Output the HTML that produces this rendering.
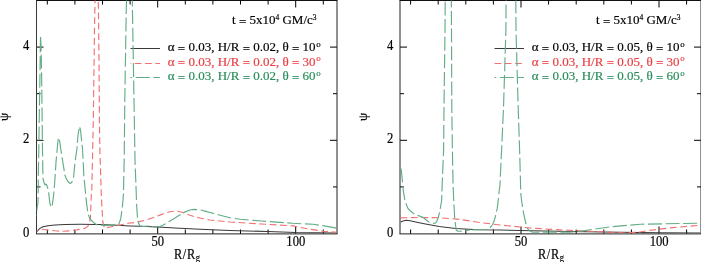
<!DOCTYPE html>
<html><head><meta charset="utf-8"><style>
html,body{margin:0;padding:0;background:#fff;}
svg{display:block;will-change:transform;}
text{font-family:"Liberation Serif",serif;font-size:13px;fill:#000;stroke:#000;stroke-width:0.18px;}
</style></head><body>
<svg width="701" height="262" viewBox="0 0 701 262">
<defs>
<clipPath id="cl"><rect x="36.5" y="0.5" width="300" height="233"/></clipPath>
<clipPath id="cr"><rect x="400.5" y="0.5" width="300" height="233"/></clipPath>
</defs>
<g stroke="#000" stroke-width="1" fill="none">
<line x1="47.3" y1="233.9" x2="47.3" y2="229.5"/>
<line x1="47.3" y1="0.5" x2="47.3" y2="4.5"/>
<line x1="74.9" y1="233.9" x2="74.9" y2="229.5"/>
<line x1="74.9" y1="0.5" x2="74.9" y2="4.5"/>
<line x1="102.5" y1="233.9" x2="102.5" y2="229.5"/>
<line x1="102.5" y1="0.5" x2="102.5" y2="4.5"/>
<line x1="130.1" y1="233.9" x2="130.1" y2="229.5"/>
<line x1="130.1" y1="0.5" x2="130.1" y2="4.5"/>
<line x1="157.7" y1="233.9" x2="157.7" y2="226.5"/>
<line x1="157.7" y1="0.5" x2="157.7" y2="7.5"/>
<line x1="185.3" y1="233.9" x2="185.3" y2="229.5"/>
<line x1="185.3" y1="0.5" x2="185.3" y2="4.5"/>
<line x1="212.9" y1="233.9" x2="212.9" y2="229.5"/>
<line x1="212.9" y1="0.5" x2="212.9" y2="4.5"/>
<line x1="240.5" y1="233.9" x2="240.5" y2="229.5"/>
<line x1="240.5" y1="0.5" x2="240.5" y2="4.5"/>
<line x1="268.1" y1="233.9" x2="268.1" y2="229.5"/>
<line x1="268.1" y1="0.5" x2="268.1" y2="4.5"/>
<line x1="295.7" y1="233.9" x2="295.7" y2="226.5"/>
<line x1="295.7" y1="0.5" x2="295.7" y2="7.5"/>
<line x1="323.3" y1="233.9" x2="323.3" y2="229.5"/>
<line x1="323.3" y1="0.5" x2="323.3" y2="4.5"/>
<line x1="36.5" y1="186.9" x2="40.5" y2="186.9"/>
<line x1="337.0" y1="186.9" x2="333.0" y2="186.9"/>
<line x1="36.5" y1="140.3" x2="43.5" y2="140.3"/>
<line x1="337.0" y1="140.3" x2="330.0" y2="140.3"/>
<line x1="36.5" y1="93.7" x2="40.5" y2="93.7"/>
<line x1="337.0" y1="93.7" x2="333.0" y2="93.7"/>
<line x1="36.5" y1="47.1" x2="43.5" y2="47.1"/>
<line x1="337.0" y1="47.1" x2="330.0" y2="47.1"/>
<line x1="36.0" y1="0.5" x2="337.5" y2="0.5" stroke="#111"/>
<line x1="36.5" y1="0.5" x2="36.5" y2="233.9" stroke="#3a3a3a"/>
<line x1="337.0" y1="0.5" x2="337.0" y2="233.9" stroke="#222"/>
<line x1="36.0" y1="233.9" x2="337.5" y2="233.9" stroke="#222"/>
<line x1="410.6" y1="233.9" x2="410.6" y2="229.5"/>
<line x1="410.6" y1="0.5" x2="410.6" y2="4.5"/>
<line x1="438.2" y1="233.9" x2="438.2" y2="229.5"/>
<line x1="438.2" y1="0.5" x2="438.2" y2="4.5"/>
<line x1="465.8" y1="233.9" x2="465.8" y2="229.5"/>
<line x1="465.8" y1="0.5" x2="465.8" y2="4.5"/>
<line x1="493.4" y1="233.9" x2="493.4" y2="229.5"/>
<line x1="493.4" y1="0.5" x2="493.4" y2="4.5"/>
<line x1="521.0" y1="233.9" x2="521.0" y2="226.5"/>
<line x1="521.0" y1="0.5" x2="521.0" y2="7.5"/>
<line x1="548.6" y1="233.9" x2="548.6" y2="229.5"/>
<line x1="548.6" y1="0.5" x2="548.6" y2="4.5"/>
<line x1="576.2" y1="233.9" x2="576.2" y2="229.5"/>
<line x1="576.2" y1="0.5" x2="576.2" y2="4.5"/>
<line x1="603.8" y1="233.9" x2="603.8" y2="229.5"/>
<line x1="603.8" y1="0.5" x2="603.8" y2="4.5"/>
<line x1="631.4" y1="233.9" x2="631.4" y2="229.5"/>
<line x1="631.4" y1="0.5" x2="631.4" y2="4.5"/>
<line x1="659.0" y1="233.9" x2="659.0" y2="226.5"/>
<line x1="659.0" y1="0.5" x2="659.0" y2="7.5"/>
<line x1="686.6" y1="233.9" x2="686.6" y2="229.5"/>
<line x1="686.6" y1="0.5" x2="686.6" y2="4.5"/>
<line x1="400.0" y1="186.9" x2="404.0" y2="186.9"/>
<line x1="701.0" y1="186.9" x2="697.0" y2="186.9"/>
<line x1="400.0" y1="140.3" x2="407.0" y2="140.3"/>
<line x1="701.0" y1="140.3" x2="694.0" y2="140.3"/>
<line x1="400.0" y1="93.7" x2="404.0" y2="93.7"/>
<line x1="701.0" y1="93.7" x2="697.0" y2="93.7"/>
<line x1="400.0" y1="47.1" x2="407.0" y2="47.1"/>
<line x1="701.0" y1="47.1" x2="694.0" y2="47.1"/>
<line x1="399.5" y1="0.5" x2="701.5" y2="0.5" stroke="#111"/>
<line x1="400.0" y1="0.5" x2="400.0" y2="233.9" stroke="#222"/>
<line x1="701.0" y1="0.5" x2="701.0" y2="233.9" stroke="#222"/>
<line x1="399.5" y1="233.9" x2="701.5" y2="233.9" stroke="#222"/>
</g>
<g fill="none" stroke-width="1">
<line x1="130.5" y1="48.5" x2="160" y2="48.5" stroke="#3a3a3a"/>
<line x1="130.5" y1="63.5" x2="160" y2="63.5" stroke="#f27070" stroke-dasharray="6.7 3.6" stroke-dashoffset="6.0"/>
<line x1="130.5" y1="77.5" x2="160" y2="77.5" stroke="#62ad86" stroke-dasharray="14 3.6" stroke-dashoffset="12.3"/>
<line x1="494.5" y1="48.5" x2="524" y2="48.5" stroke="#3a3a3a"/>
<line x1="494.5" y1="63.5" x2="524" y2="63.5" stroke="#f27070" stroke-dasharray="6.7 3.6" stroke-dashoffset="0"/>
<line x1="494.5" y1="77.5" x2="524" y2="77.5" stroke="#62ad86" stroke-dasharray="14 3.6" stroke-dashoffset="12.3"/>
</g>
<g fill="none" stroke-width="1.15" clip-path="url(#cl)" stroke-linejoin="round">
<path d="M36.5,232.3 L38.0,230.2 L40.0,228.4 L43.0,226.7 L48.0,225.7 L55.0,225.0 L65.0,224.5 L80.0,224.3 L96.0,224.4 L100.0,224.5 L117.8,225.2 L130.0,225.9 L140.0,226.3 L157.8,227.0 L175.0,228.0 L200.0,229.3 L230.0,230.4 L267.7,231.5 L295.9,232.6 L336.5,233.0" stroke="#3a3a3a" stroke-width="1.05"/>
<path d="M95.1,0.0 L94.8,13.0 L94.5,30.0 L93.3,120.0 L92.4,163.0 L91.8,190.0 L91.3,195.0 L90.4,218.0 L89.5,223.1 L88.0,226.1 L85.0,228.3 L80.0,229.1 L76.0,230.0 L70.0,230.8 L62.0,231.3 L55.0,230.8 L48.0,230.0 L42.0,229.3 L39.0,230.0 L36.5,231.5" stroke="#f27070" stroke-dasharray="6.8 3.6" stroke-dashoffset="3.5"/>
<path d="M98.2,0.0 L98.5,13.0 L99.0,60.0 L99.4,120.0 L99.9,150.0 L101.4,197.7 L102.4,215.0 L102.8,222.0 L103.6,225.5 L105.0,228.3 L110.0,227.0 L120.0,225.0 L128.0,223.3 L135.0,222.5 L140.0,221.4 L147.0,219.8 L152.0,218.0 L155.0,216.8 L162.0,214.4 L165.0,213.2 L170.0,211.8 L175.0,211.1 L178.0,211.3 L182.0,212.3 L185.0,213.4 L190.0,215.3 L195.0,216.8 L200.0,218.0 L210.0,220.0 L220.0,221.0 L230.0,222.0 L261.4,224.0 L292.8,225.9 L308.5,229.0 L324.1,231.4 L336.5,232.2" stroke="#f27070" stroke-dasharray="6.8 3.6" stroke-dashoffset="8.4"/>
<path d="M126.5,0.0 L126.2,13.0 L124.8,100.0 L124.2,160.0 L123.4,195.0 L122.5,205.7 L120.7,219.0 L118.7,224.4 L106.7,225.4 L97.4,225.0 L93.4,222.4 L90.0,219.0 L88.0,213.7 L86.6,203.6 L84.9,186.5 L83.8,175.0 L82.6,150.0 L80.5,130.0 L79.5,126.3 L78.0,135.0 L76.8,150.0 L75.0,162.0 L73.8,175.0 L73.5,178.0 L72.3,181.3 L70.4,183.6 L67.7,181.3 L66.0,178.0 L64.9,175.0 L62.5,160.0 L60.9,150.0 L59.5,140.0 L58.6,137.7 L58.0,141.0 L57.1,150.0 L56.0,162.0 L55.2,175.0 L54.5,185.0 L53.6,195.5 L52.3,205.0 L51.0,207.4 L49.8,202.7 L48.3,189.8 L47.0,186.0 L46.4,184.4 L45.7,184.2 L45.0,185.0 L44.0,182.5 L43.1,179.0 L42.8,170.0 L42.5,150.0 L42.1,115.0 L41.7,80.0 L41.0,45.0 L40.5,36.0 L40.3,50.0 L39.9,80.0 L39.2,120.0 L38.8,150.0 L38.3,175.0 L38.3,187.0 L38.0,202.7 L37.0,207.9 L36.5,216.0" stroke="#62ad86" stroke-dasharray="14 3.6" stroke-dashoffset="0"/>
<path d="M132.3,0.0 L132.5,13.0 L134.0,100.0 L135.0,160.0 L136.3,195.0 L136.6,205.0 L137.5,218.0 L138.5,223.0 L140.0,226.0 L143.0,226.5 L148.0,226.0 L156.0,227.0 L160.0,226.5 L163.5,225.0 L165.0,224.0 L170.0,221.0 L175.0,218.0 L178.5,215.8 L184.0,212.4 L190.0,210.0 L194.0,209.4 L200.0,209.8 L206.0,211.4 L211.0,212.8 L223.0,216.0 L230.0,217.8 L240.0,219.3 L261.4,221.0 L292.8,223.3 L313.2,224.3 L324.1,225.9 L336.5,228.2" stroke="#62ad86" stroke-dasharray="14 3.6" stroke-dashoffset="7.5"/>
</g>
<g fill="none" stroke-width="1.15" clip-path="url(#cr)" stroke-linejoin="round">
<path d="M400.5,222.0 L403.0,221.0 L406.2,220.3 L410.0,220.8 L418.0,222.5 L425.5,224.0 L439.2,226.6 L455.7,228.4 L478.0,229.7 L500.0,230.1 L520.0,230.5 L570.0,231.5 L620.0,232.3 L660.0,232.8 L700.5,233.0" stroke="#3a3a3a" stroke-width="1.05"/>
<path d="M400.5,217.9 L420.0,217.5 L440.0,217.8 L460.0,219.4 L478.0,222.3 L500.0,225.0 L520.0,227.0 L530.0,228.0 L540.0,228.6 L560.0,229.9 L600.0,231.8 L626.0,233.0 L640.0,232.0 L650.5,230.2 L672.7,227.6 L700.5,225.2" stroke="#f27070" stroke-dasharray="6.8 3.6"/>
<path d="M445.2,0.0 L445.0,30.0 L444.0,108.0 L443.6,150.0 L442.1,186.0 L441.7,200.0 L439.9,211.0 L438.3,217.5 L436.8,221.3 L435.5,223.0 L433.8,223.4 L429.5,222.4 L426.4,220.2 L423.4,217.5 L419.1,215.9 L415.5,214.7 L413.6,213.6 L410.9,211.3 L408.0,208.5 L406.7,205.6 L404.9,200.0 L403.5,192.3 L402.5,182.0 L401.5,172.0 L400.5,164.0" stroke="#62ad86" stroke-dasharray="14 3.6" stroke-dashoffset="16.1"/>
<path d="M451.3,0.0 L451.5,30.0 L451.8,108.0 L452.4,150.0 L453.1,186.0 L453.7,200.0 L454.6,216.5 L455.5,225.0 L456.3,230.0 L457.5,231.2 L462.0,231.2 L470.0,230.0" stroke="#62ad86" stroke-dasharray="14 3.6" stroke-dashoffset="6.6"/>
<path d="M506.1,0.0 L505.9,30.0 L503.5,108.0 L501.6,150.0 L499.9,186.0 L499.3,190.0 L498.6,197.0 L497.8,204.0 L497.2,208.4 L496.3,212.5 L495.4,216.4 L494.6,219.5 L493.7,222.2 L492.6,224.5 L491.4,226.2 L490.0,227.5 L488.0,228.6 L486.0,229.2 L480.0,229.5 L470.0,230.0" stroke="#62ad86" stroke-dasharray="14 3.6" stroke-dashoffset="13.1"/>
<path d="M515.8,0.0 L516.0,30.0 L518.2,108.0 L519.6,150.0 L520.6,186.0 L520.9,195.0 L521.8,202.0 L523.0,210.0 L524.0,215.3 L525.2,220.5 L526.3,225.5 L527.8,228.8 L529.5,230.7 L532.6,232.2 L570.0,232.1 L580.1,231.2 L610.3,226.8 L640.5,224.2 L700.5,223.2" stroke="#62ad86" stroke-dasharray="14 3.6" stroke-dashoffset="0.5"/>
</g>
<text transform="translate(29.4,237.1) scale(0.97,1.06)" text-anchor="end">0</text>
<text transform="translate(29.4,143.3) scale(0.97,1.06)" text-anchor="end">2</text>
<text transform="translate(29.4,50.0) scale(0.97,1.06)" text-anchor="end">4</text>
<text transform="translate(157.70,245.8) scale(0.97,1.06)" text-anchor="middle">50</text>
<text transform="translate(295.80,245.8) scale(0.97,1.06)" text-anchor="middle">100</text>
<text transform="translate(173.89999999999998,258.6) scale(0.95,1.08)" letter-spacing="0.7">R/R<tspan font-size="9" dy="2.5" letter-spacing="0">g</tspan></text>
<text transform="translate(3.8,116.9) rotate(-90)" text-anchor="middle" y="4" font-size="13.5">ψ</text>
<text x="232" y="24">t <tspan dy="1.6">=</tspan><tspan dy="-1.6"> 5x10</tspan><tspan font-size="7.5" dy="-3.6">4</tspan><tspan dy="3.6"> GM/c</tspan><tspan font-size="7.5" dy="-3.6">3</tspan></text>
<text x="167.8" y="51.0" style="fill:#000;stroke:#000">α <tspan dy="1.6">=</tspan><tspan dy="-1.6"> 0.03, H/R </tspan><tspan dy="1.6">=</tspan><tspan dy="-1.6"> 0.02, θ </tspan><tspan dy="1.6">=</tspan><tspan dy="-1.6"> 10</tspan><tspan font-size="9" dy="-4.2" dx="0.8">o</tspan></text>
<text x="167.8" y="65.5" style="fill:#eb3c41;stroke:#eb3c41">α <tspan dy="1.6">=</tspan><tspan dy="-1.6"> 0.03, H/R </tspan><tspan dy="1.6">=</tspan><tspan dy="-1.6"> 0.02, θ </tspan><tspan dy="1.6">=</tspan><tspan dy="-1.6"> 30</tspan><tspan font-size="9" dy="-4.2" dx="0.8">o</tspan></text>
<text x="167.8" y="80.0" style="fill:#288c5a;stroke:#288c5a">α <tspan dy="1.6">=</tspan><tspan dy="-1.6"> 0.03, H/R </tspan><tspan dy="1.6">=</tspan><tspan dy="-1.6"> 0.02, θ </tspan><tspan dy="1.6">=</tspan><tspan dy="-1.6"> 60</tspan><tspan font-size="9" dy="-4.2" dx="0.8">o</tspan></text>
<text transform="translate(393.4,237.1) scale(0.97,1.06)" text-anchor="end">0</text>
<text transform="translate(393.4,143.3) scale(0.97,1.06)" text-anchor="end">2</text>
<text transform="translate(393.4,50.0) scale(0.97,1.06)" text-anchor="end">4</text>
<text transform="translate(521.00,245.8) scale(0.97,1.06)" text-anchor="middle">50</text>
<text transform="translate(659.10,245.8) scale(0.97,1.06)" text-anchor="middle">100</text>
<text transform="translate(537.9000000000001,258.6) scale(0.95,1.08)" letter-spacing="0.7">R/R<tspan font-size="9" dy="2.5" letter-spacing="0">g</tspan></text>
<text transform="translate(363.3,116.9) rotate(-90)" text-anchor="middle" y="4" font-size="13.5">ψ</text>
<text x="596" y="24">t <tspan dy="1.6">=</tspan><tspan dy="-1.6"> 5x10</tspan><tspan font-size="7.5" dy="-3.6">4</tspan><tspan dy="3.6"> GM/c</tspan><tspan font-size="7.5" dy="-3.6">3</tspan></text>
<text x="531.8" y="51.0" style="fill:#000;stroke:#000">α <tspan dy="1.6">=</tspan><tspan dy="-1.6"> 0.03, H/R </tspan><tspan dy="1.6">=</tspan><tspan dy="-1.6"> 0.05, θ </tspan><tspan dy="1.6">=</tspan><tspan dy="-1.6"> 10</tspan><tspan font-size="9" dy="-4.2" dx="0.8">o</tspan></text>
<text x="531.8" y="65.5" style="fill:#eb3c41;stroke:#eb3c41">α <tspan dy="1.6">=</tspan><tspan dy="-1.6"> 0.03, H/R </tspan><tspan dy="1.6">=</tspan><tspan dy="-1.6"> 0.05, θ </tspan><tspan dy="1.6">=</tspan><tspan dy="-1.6"> 30</tspan><tspan font-size="9" dy="-4.2" dx="0.8">o</tspan></text>
<text x="531.8" y="80.0" style="fill:#288c5a;stroke:#288c5a">α <tspan dy="1.6">=</tspan><tspan dy="-1.6"> 0.03, H/R </tspan><tspan dy="1.6">=</tspan><tspan dy="-1.6"> 0.05, θ </tspan><tspan dy="1.6">=</tspan><tspan dy="-1.6"> 60</tspan><tspan font-size="9" dy="-4.2" dx="0.8">o</tspan></text>
</svg>
</body></html>
